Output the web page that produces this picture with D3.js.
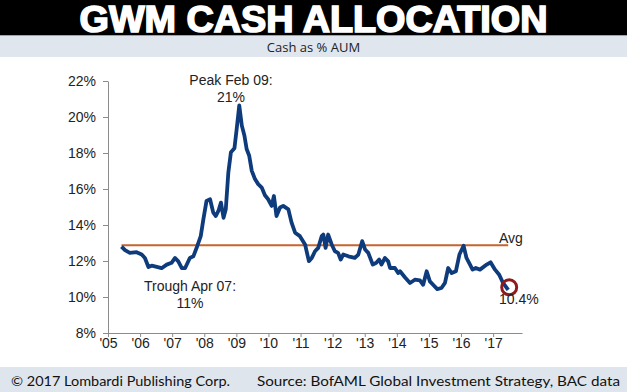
<!DOCTYPE html>
<html>
<head>
<meta charset="utf-8">
<script src="https://cdn.jsdelivr.net/npm/d3@7"></script>
<style>
  body { margin: 0; background: #fff; }
  svg { display: block; }
  .narrow { font-family: "Liberation Sans Narrow", "Arial Narrow", "Liberation Sans", Arial, sans-serif; }
</style>
</head>
<body>
<div id="chart"></div>
<script>
// decimal year of each reading
let dates = [
  2005.42, 2005.53, 2005.68, 2005.89, 2006.05, 2006.15, 2006.26, 2006.36, 2006.52, 2006.67,
  2006.83, 2006.98, 2007.09, 2007.19, 2007.30, 2007.40, 2007.55, 2007.66, 2007.78, 2007.89,
  2007.97, 2008.07, 2008.18, 2008.28, 2008.36, 2008.44, 2008.52, 2008.60, 2008.67, 2008.75,
  2008.83, 2008.94, 2009.01, 2009.09, 2009.17, 2009.25, 2009.32, 2009.40, 2009.48, 2009.58,
  2009.68, 2009.79, 2009.89, 2009.99, 2010.10, 2010.17, 2010.25, 2010.36, 2010.46, 2010.62,
  2010.72, 2010.83, 2010.98, 2011.14, 2011.26, 2011.35, 2011.45, 2011.55, 2011.66, 2011.71,
  2011.78, 2011.86, 2011.97, 2012.07, 2012.17, 2012.25, 2012.33, 2012.49, 2012.69, 2012.80,
  2012.92, 2013.01, 2013.11, 2013.25, 2013.36, 2013.45, 2013.52, 2013.63, 2013.73, 2013.79,
  2013.94, 2014.04, 2014.10, 2014.25, 2014.41, 2014.56, 2014.72, 2014.82, 2014.93, 2015.03,
  2015.13, 2015.26, 2015.39, 2015.50, 2015.60, 2015.71, 2015.84, 2015.95, 2016.08, 2016.17,
  2016.28, 2016.36, 2016.46, 2016.59, 2016.80, 2016.92, 2017.06, 2017.19, 2017.31, 2017.47
];
// cash as % of AUM
let cashPct = [
  12.80, 12.60, 12.45, 12.49, 12.36, 12.17, 11.67, 11.74, 11.67, 11.60,
  11.80, 11.90, 12.17, 11.98, 11.60, 11.60, 12.17, 12.26, 12.82, 13.38,
  14.30, 15.34, 15.43, 14.69, 14.50, 14.78, 15.24, 14.40, 14.87, 16.92,
  18.04, 18.26, 19.34, 20.64, 19.52, 18.97, 18.22, 17.85, 17.01, 16.55,
  16.27, 16.08, 15.65, 15.43, 15.06, 15.61, 14.50, 14.97, 15.06, 14.87,
  14.13, 13.57, 13.38, 12.92, 11.99, 12.17, 12.54, 12.73, 13.38, 13.47,
  12.73, 13.47, 12.92, 12.54, 12.45, 12.08, 12.36, 12.26, 12.17, 12.36,
  13.10, 12.64, 12.45, 11.80, 11.90, 12.08, 11.80, 12.17, 11.98, 11.61,
  11.61, 11.33, 11.43, 11.10, 10.78, 10.96, 10.92, 10.68, 11.43, 10.87,
  10.68, 10.44, 10.50, 10.78, 11.61, 11.33, 11.43, 12.36, 12.85, 12.17,
  11.80, 11.52, 11.61, 11.52, 11.80, 11.93, 11.52, 11.24, 10.78, 10.40
];
let avgValue = 12.88;
let yTicks = [8, 10, 12, 14, 16, 18, 20, 22];
let xTicks = [2005, 2006, 2007, 2008, 2009, 2010, 2011, 2012, 2013, 2014, 2015, 2016, 2017];
let xTickLabels = ["'05", "'06", "'07", "'08", "'09", "'10", "'11", "'12", "'13", "'14", "'15", "'16", "'17"];

let width = 627, height = 392;
let svg = d3.select("#chart").append("svg")
    .attr("width", width)
    .attr("height", height);

// title bar
svg.append("rect").attr("x", 0).attr("y", 0).attr("width", width).attr("height", 35).attr("fill", "#000");
svg.append("text")
    .attr("x", width / 2).attr("y", 31.5)
    .attr("text-anchor", "middle")
    .attr("textLength", 468).attr("lengthAdjust", "spacingAndGlyphs")
    .style("font-family", "'Liberation Sans', Arial, sans-serif")
    .style("font-weight", "bold")
    .style("font-size", "36px")
    .attr("fill", "#fff").attr("stroke", "#fff").attr("stroke-width", 1.6)
    .text("GWM CASH ALLOCATION");

// subtitle band
svg.append("rect").attr("x", 0).attr("y", 35).attr("width", width).attr("height", 22).attr("fill", "#dfe6ee");
svg.append("line").attr("x1", 0).attr("x2", width).attr("y1", 35.5).attr("y2", 35.5).attr("stroke", "#9aa3ad");
svg.append("text")
    .attr("x", width / 2).attr("y", 51.5)
    .attr("text-anchor", "middle")
    .style("font-family", "'Open Sans', 'DejaVu Sans', sans-serif")
    .style("font-size", "13px")
    .attr("fill", "#222")
    .text("Cash as % AUM");

// footer band
svg.append("rect").attr("x", 0).attr("y", 367).attr("width", width).attr("height", 25).attr("fill", "#dfe5ec");
svg.append("text")
    .attr("x", 11).attr("y", 386)
    .attr("textLength", 219).attr("lengthAdjust", "spacingAndGlyphs")
    .style("font-family", "Lato, 'Open Sans', sans-serif")
    .style("font-size", "14px")
    .attr("fill", "#111")
    .text("\u00A9 2017 Lombardi Publishing Corp.");
svg.append("text")
    .attr("x", 257).attr("y", 386)
    .attr("textLength", 363).attr("lengthAdjust", "spacingAndGlyphs")
    .style("font-family", "Lato, 'Open Sans', sans-serif")
    .style("font-size", "14px")
    .attr("fill", "#111")
    .text("Source: BofAML Global Investment Strategy, BAC data");

// scales
let xScale = d3.scaleLinear().domain([2005, 2017.9]).range([108, 522]);
let yScale = d3.scaleLinear().domain([8, 22]).range([333, 81]);

let xAxis = d3.axisBottom(xScale)
    .tickValues(xTicks)
    .tickFormat((d, i) => xTickLabels[i])
    .tickSize(4).tickSizeOuter(0).tickPadding(1);
let yAxis = d3.axisLeft(yScale)
    .tickValues(yTicks)
    .tickFormat(d => d + "%")
    .tickSize(5).tickSizeOuter(0).tickPadding(7);

let gx = svg.append("g").attr("transform", "translate(0,333)").call(xAxis);
let gy = svg.append("g").attr("transform", "translate(108,0)").call(yAxis);
[gx, gy].forEach(g => {
  g.select(".domain").attr("stroke", "#8c8c8c");
  g.selectAll(".tick line").attr("stroke", "#8c8c8c");
  g.selectAll("text")
      .attr("class", "narrow")
      .style("font-size", "14px")
      .attr("fill", "#222");
});

// average line
svg.append("line")
    .attr("x1", xScale(dates[0])).attr("x2", xScale(dates[dates.length - 1]))
    .attr("y1", yScale(avgValue)).attr("y2", yScale(avgValue))
    .attr("stroke", "#c5642c").attr("stroke-width", 2);

// cash series
let series = dates.map((d, i) => ({ date: d, value: cashPct[i] }));
let line = d3.line()
    .x(d => xScale(d.date))
    .y(d => yScale(d.value));
svg.append("path")
    .datum(series)
    .attr("d", line)
    .attr("fill", "none")
    .attr("stroke", "#0d3b7c")
    .attr("stroke-width", 3.8)
    .attr("stroke-linejoin", "round");

// last point circle
let last = series[series.length - 1];
svg.append("circle")
    .attr("cx", xScale(last.date) + 1).attr("cy", yScale(last.value) - 2.5)
    .attr("r", 7.5)
    .attr("fill", "none").attr("stroke", "#8e1c1c").attr("stroke-width", 3);

// annotations
let annotate = (x, y, lines, anchor) => {
  let t = svg.append("text")
      .attr("class", "narrow")
      .attr("x", x).attr("y", y)
      .attr("text-anchor", anchor)
      .style("font-size", "14px")
      .attr("fill", "#222");
  lines.forEach((s, i) => {
    t.append("tspan").attr("x", x).attr("dy", i === 0 ? 0 : 16.5).text(s);
  });
};
annotate(231, 85, ["Peak Feb 09:", "21%"], "middle");
annotate(190, 291, ["Trough Apr 07:", "11%"], "middle");
annotate(499, 243, ["Avg"], "start");
annotate(499, 304, ["10.4%"], "start");
</script>
</body>
</html>
